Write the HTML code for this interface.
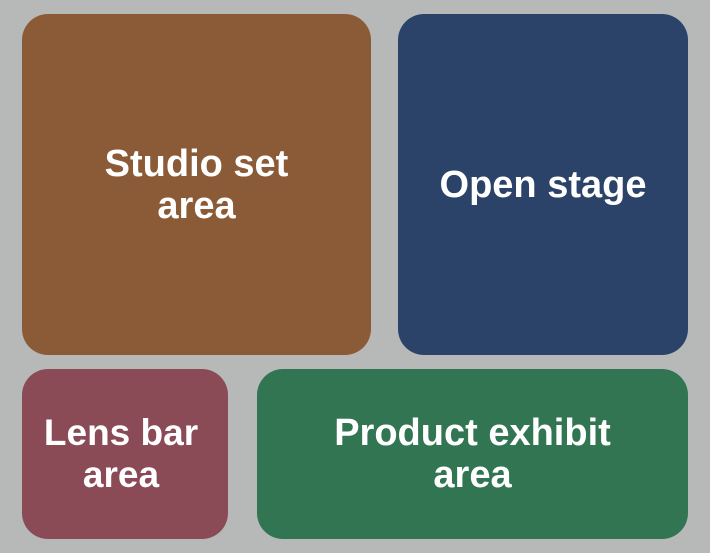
<!DOCTYPE html>
<html><head><style>
body{margin:0;width:710px;height:553px;background:#b7b9b8;position:relative;overflow:hidden;font-family:"Liberation Sans",sans-serif;}
.b{position:absolute;border-radius:26px;color:#fff;font-weight:bold;font-size:38px;line-height:42px;display:flex;align-items:center;justify-content:center;text-align:center;}
</style></head><body>
<div class="b" style="left:22px;top:14px;width:349px;height:341px;background:#8b5a36;">Studio set<br>area</div>
<div class="b" style="left:398px;top:14px;width:290px;height:341px;background:#2b4369;">Open stage</div>
<div class="b" style="left:22px;top:369px;width:206px;height:170px;background:#8a4b57;"><span style="margin-right:8px;font-size:37px">Lens bar<br>area</span></div>
<div class="b" style="left:257px;top:369px;width:431px;height:170px;background:#317553;">Product exhibit<br>area</div>
</body></html>
